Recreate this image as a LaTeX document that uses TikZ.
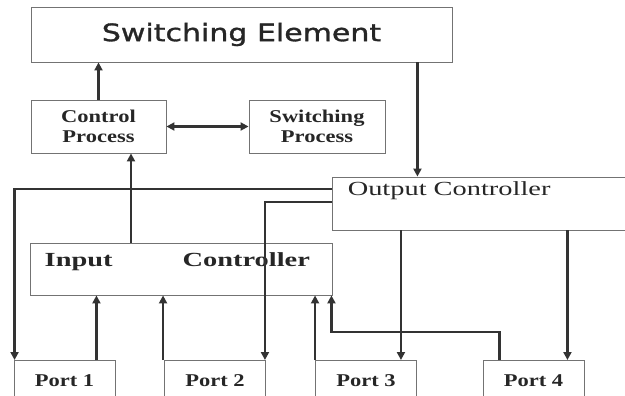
\documentclass[tikz,border=0pt]{standalone}
\usepackage{fontspec}
\setmainfont{Liberation Serif}
\newfontfamily\titlefont[FakeStretch=1.25, FakeBold=1.3]{DejaVu Sans}
\newfontfamily\boxfont[FakeStretch=1.25]{Liberation Serif}
\newfontfamily\widefont[FakeStretch=1.42]{Liberation Serif}
\usepackage{tikz}
\usetikzlibrary{arrows.meta, positioning, calc}

\begin{document}
\begin{tikzpicture}[
  x=1pt, y=-1pt,
  blk/.style={rectangle, draw=black!55, line width=0.9pt, inner sep=0pt,
              text=black!85, align=center},
  small/.style={blk, font=\boxfont\fontsize{18}{20}\selectfont\bfseries},
  port/.style={blk, anchor=north, minimum width=101, minimum height=40,
               font=\boxfont\fontsize{18}{20}\selectfont\bfseries},
  arr/.style={-{Triangle[length=8pt, width=8pt]}, line width=2.7pt, draw=black!80},
  dbl/.style={{Triangle[length=8pt, width=8pt]}-{Triangle[length=8pt, width=8pt]},
              line width=2.7pt, draw=black!80}
]
\useasboundingbox (0,0) rectangle (625,396);
\clip (0,0) rectangle (625,396);
%% top row
\node[blk, minimum width=421, minimum height=55,
      font=\titlefont\fontsize{24}{26}\selectfont] (se) at (241.5,34.5) {Switching Element};
\node[small, minimum width=135, minimum height=53] (cp) at (98.5,126.5) {Control\\Process};
\node[small, minimum width=136, minimum height=53] (sp) at (317,126.5) {Switching\\Process};
%% controllers
\node[blk, minimum width=300, minimum height=53,
      label={[anchor=west, font=\widefont\fontsize{20}{22}\selectfont, text=black!85,
              inner sep=0pt, yshift=13pt, xshift=16pt]west:Output Controller}] (oc) at (482,203.5) {};
\node[blk, minimum width=302, minimum height=52,
      label={[anchor=west, font=\widefont\fontsize{20}{22}\selectfont\bfseries, text=black!85,
              inner sep=0pt, yshift=7pt, xshift=15pt]west:Input\hspace{70pt}Controller}] (ic) at (181,269) {};
%% ports
\node[port] (p1) at (64.5,360) {Port 1};
\node[port] (p2) at (215,360)  {Port 2};
\node[port] (p3) at (366,360)  {Port 3};
\node[port] (p4) at (533.5,360) {Port 4};
%% arrows
\draw[arr] (cp.north) -- (cp.north |- se.south);
\draw[dbl] (cp.east) -- (sp.west);
\draw[arr] ([xshift=-35pt]se.south east) -- ([xshift=-35pt]se.south east |- oc.north);
\draw[arr] ([xshift=32.5pt]cp.south |- ic.north) -- ([xshift=32.5pt]cp.south);
\draw[arr] ([yshift=14.5pt]oc.west) -| ([xshift=1pt]p1.north west);
\draw[arr] ([yshift=1.5pt]oc.west) -| ([xshift=-1pt]p2.north east);
\draw[arr] ([xshift=-19pt]p1.north east) -- ([xshift=-19pt]p1.north east |- ic.south);
\draw[arr] ([xshift=-1pt]p2.north west) -- ([xshift=-1pt]p2.north west |- ic.south);
\draw[arr] (p3.north west) -- (p3.north west |- ic.south);
\draw[arr] ([xshift=17pt]p4.north west) -- ++(0,-28) -| ([xshift=-1pt]ic.south east);
\draw[arr] ([xshift=-16pt]p3.north east |- oc.south) -- ([xshift=-16pt]p3.north east);
\draw[arr] ([xshift=-17pt]p4.north east |- oc.south) -- ([xshift=-17pt]p4.north east);
\end{tikzpicture}
\end{document}
